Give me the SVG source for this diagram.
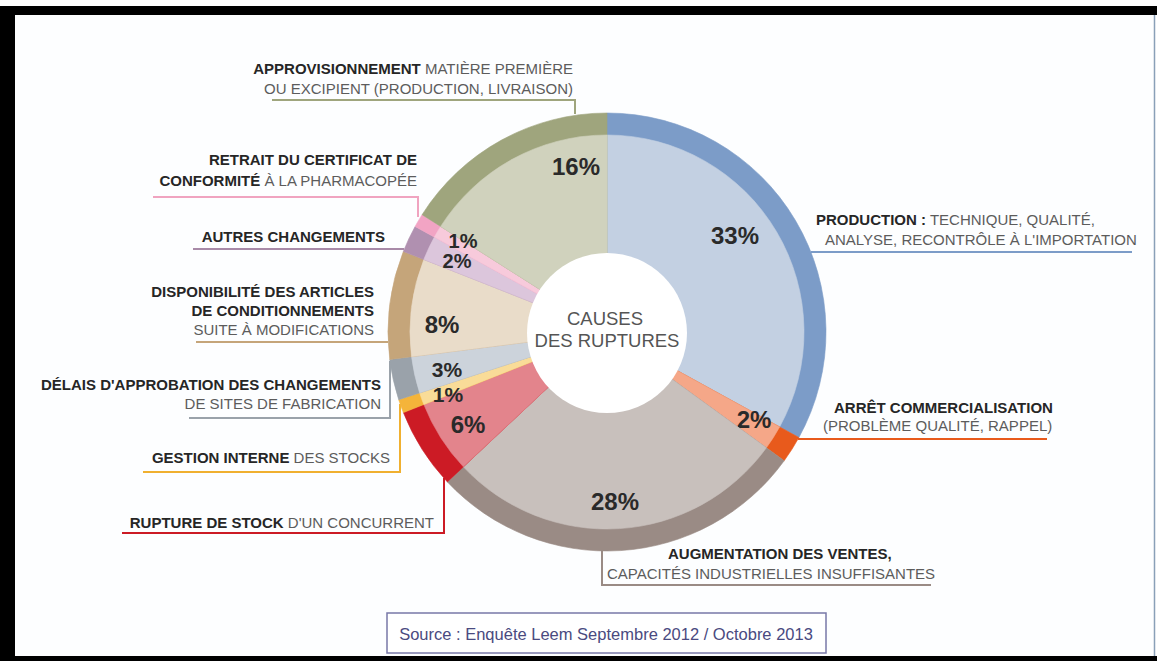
<svg xmlns="http://www.w3.org/2000/svg" width="1157" height="661" viewBox="0 0 1157 661">
<style>
text{font-family:"Liberation Sans",Arial,sans-serif}
.lbl{font-size:15px}
.b{font-weight:bold;fill:#262626}
.r{fill:#5c5c5c}
.pct{font-size:24px;font-weight:bold;fill:#2a2a2a;text-anchor:middle}
.sm{font-size:21px}
.xs{font-size:20px}
.ctr{font-size:18.5px;fill:#555;text-anchor:middle}
.end{text-anchor:end}
.ln{fill:none;stroke-width:2}
.w{stroke-width:0.6}
</style>
<rect x="0" y="0" width="1157" height="661" fill="#ffffff"/>
<rect x="15" y="15" width="1139" height="641" fill="#fdfeff"/>
<rect x="0" y="6" width="1157" height="9" fill="#000"/>
<rect x="0" y="6" width="15" height="655" fill="#000"/>
<rect x="0" y="656" width="1157" height="5" fill="#000"/>
<line x1="1154.5" y1="15" x2="1154.5" y2="656" stroke="#8aa0b8" stroke-width="1.5"/>

<g id="connectors">
<path class="ln" stroke="#9fa57d" d="M272 100 H575 V114"/>
<path class="ln" stroke="#f0a4c0" d="M153 197 H418 V217"/>
<path class="ln" stroke="#a88aa8" d="M193 249 H404"/>
<path class="ln" stroke="#c5a57a" d="M196 342 H388"/>
<path class="ln" stroke="#9aa2aa" d="M189 418 H390 V361"/>
<path class="ln" stroke="#f0b030" d="M143 472 H400 V404"/>
<path class="ln" stroke="#cc1b25" d="M122 533 H444 V478"/>
<path class="ln" stroke="#7c9cc8" d="M811 252 H1132"/>
<path class="ln" stroke="#e85a1c" d="M798 439 H1047"/>
<path class="ln" stroke="#9a8b85" d="M602 550 V585 H931"/>
</g>

<g id="production">
<path class="w" fill="#7c9cc8" stroke="#7c9cc8" d="M607 332 L607 113 A219 219 0 0 1 798.91 437.50 Z"/>
<path class="w" fill="#c3d0e2" stroke="#c3d0e2" d="M607 332 L607 135 A197 197 0 0 1 779.63 426.90 Z"/>
<text class="pct" x="735" y="244">33%</text>
<text class="lbl" x="816" y="225"><tspan class="b">PRODUCTION :</tspan><tspan class="r"> TECHNIQUE, QUALITÉ,</tspan></text>
<text class="lbl r" x="825" y="245">ANALYSE, RECONTRÔLE À L'IMPORTATION</text>
</g>

<g id="arret">
<path class="w" fill="#e85a1c" stroke="#e85a1c" d="M607 332 L798.91 437.50 A219 219 0 0 1 784.18 460.73 Z"/>
<path class="w" fill="#f5a788" stroke="#f5a788" d="M607 332 L779.63 426.90 A197 197 0 0 1 766.38 447.79 Z"/>
<text class="pct" x="754" y="428">2%</text>
<text class="lbl b" x="834" y="413">ARRÊT COMMERCIALISATION</text>
<text class="lbl r" x="823" y="431">(PROBLÈME QUALITÉ, RAPPEL)</text>
</g>

<g id="augmentation">
<path class="w" fill="#9a8b85" stroke="#9a8b85" d="M607 332 L784.18 460.73 A219 219 0 0 1 447.36 481.92 Z"/>
<path class="w" fill="#c8c0bc" stroke="#c8c0bc" d="M607 332 L766.38 447.79 A197 197 0 0 1 463.39 466.86 Z"/>
<text class="pct" x="615" y="510">28%</text>
<text class="lbl b" x="668" y="559">AUGMENTATION DES VENTES,</text>
<text class="lbl r" x="607" y="579">CAPACITÉS INDUSTRIELLES INSUFFISANTES</text>
</g>

<g id="rupture">
<path class="w" fill="#cc1b25" stroke="#cc1b25" d="M607 332 L447.36 481.92 A219 219 0 0 1 403.38 412.62 Z"/>
<path class="w" fill="#e3848c" stroke="#e3848c" d="M607 332 L463.39 466.86 A197 197 0 0 1 423.83 404.52 Z"/>
<text class="pct" x="468" y="433">6%</text>
<text class="lbl end" x="434" y="528"><tspan class="b">RUPTURE DE STOCK</tspan><tspan class="r"> D'UN CONCURRENT</tspan></text>
</g>

<g id="gestion">
<path class="w" fill="#f4b43a" stroke="#f4b43a" d="M607 332 L403.38 412.62 A219 219 0 0 1 398.72 399.68 Z"/>
<path class="w" fill="#f9dc98" stroke="#f9dc98" d="M607 332 L423.83 404.52 A197 197 0 0 1 419.64 392.88 Z"/>
<text class="pct sm" x="448" y="402">1%</text>
<text class="lbl end" x="390" y="463"><tspan class="b">GESTION INTERNE</tspan><tspan class="r"> DES STOCKS</tspan></text>
</g>

<g id="delais">
<path class="w" fill="#9aa2aa" stroke="#9aa2aa" d="M607 332 L398.72 399.68 A219 219 0 0 1 389.73 359.45 Z"/>
<path class="w" fill="#ccd3db" stroke="#ccd3db" d="M607 332 L419.64 392.88 A197 197 0 0 1 411.55 356.69 Z"/>
<text class="pct sm" x="447" y="377">3%</text>
<text class="lbl b end" x="381" y="390">DÉLAIS D'APPROBATION DES CHANGEMENTS</text>
<text class="lbl r end" x="381" y="409">DE SITES DE FABRICATION</text>
</g>

<g id="disponibilite">
<path class="w" fill="#c5a57a" stroke="#c5a57a" d="M607 332 L389.73 359.45 A219 219 0 0 1 403.38 251.38 Z"/>
<path class="w" fill="#e9dcc9" stroke="#e9dcc9" d="M607 332 L411.55 356.69 A197 197 0 0 1 423.83 259.48 Z"/>
<text class="pct" x="442" y="333">8%</text>
<text class="lbl b end" x="374" y="297">DISPONIBILITÉ DES ARTICLES</text>
<text class="lbl b end" x="374" y="316">DE CONDITIONNEMENTS</text>
<text class="lbl r end" x="374" y="335">SUITE À MODIFICATIONS</text>
</g>

<g id="autres">
<path class="w" fill="#b090b0" stroke="#b090b0" d="M607 332 L403.38 251.38 A219 219 0 0 1 415.09 226.50 Z"/>
<path class="w" fill="#dcc6dc" stroke="#dcc6dc" d="M607 332 L423.83 259.48 A197 197 0 0 1 434.37 237.10 Z"/>
<text class="lbl b end" x="385" y="242">AUTRES CHANGEMENTS</text>
</g>

<g id="retrait">
<path class="w" fill="#f2a4c4" stroke="#f2a4c4" d="M607 332 L415.09 226.50 A219 219 0 0 1 422.09 214.65 Z"/>
<path class="w" fill="#f7cadb" stroke="#f7cadb" d="M607 332 L434.37 237.10 A197 197 0 0 1 440.67 226.44 Z"/>
<text class="lbl b end" x="417" y="165">RETRAIT DU CERTIFICAT DE</text>
<text class="lbl end" x="417" y="186"><tspan class="b">CONFORMITÉ</tspan><tspan class="r"> À LA PHARMACOPÉE</tspan></text>
</g>

<g id="approvisionnement">
<path class="w" fill="#9fa57d" stroke="#9fa57d" d="M607 332 L422.09 214.65 A219 219 0 0 1 607 113 Z"/>
<path class="w" fill="#d0d2bd" stroke="#d0d2bd" d="M607 332 L440.67 226.44 A197 197 0 0 1 607 135 Z"/>
<text class="pct" x="576" y="175">16%</text>
<text class="lbl end" x="573" y="74"><tspan class="b">APPROVISIONNEMENT</tspan><tspan class="r"> MATIÈRE PREMIÈRE</tspan></text>
<text class="lbl r end" x="573" y="94">OU EXCIPIENT (PRODUCTION, LIVRAISON)</text>
</g>

<g id="small-pct">
<text class="pct xs" x="463" y="248">1%</text>
<text class="pct xs" x="457" y="268">2%</text>
</g>

<g id="centre">
<circle cx="607" cy="333" r="80" fill="#ffffff"/>
<text class="ctr" x="605" y="325">CAUSES</text>
<text class="ctr" x="607" y="347">DES RUPTURES</text>
</g>

<g id="source">
<rect x="387" y="613" width="439" height="40" fill="#ffffff" stroke="#7878a8" stroke-width="1.5"/>
<text x="606" y="640" font-size="16.5" fill="#4a4a80" text-anchor="middle">Source : Enquête Leem Septembre 2012 / Octobre 2013</text>
</g>
</svg>
